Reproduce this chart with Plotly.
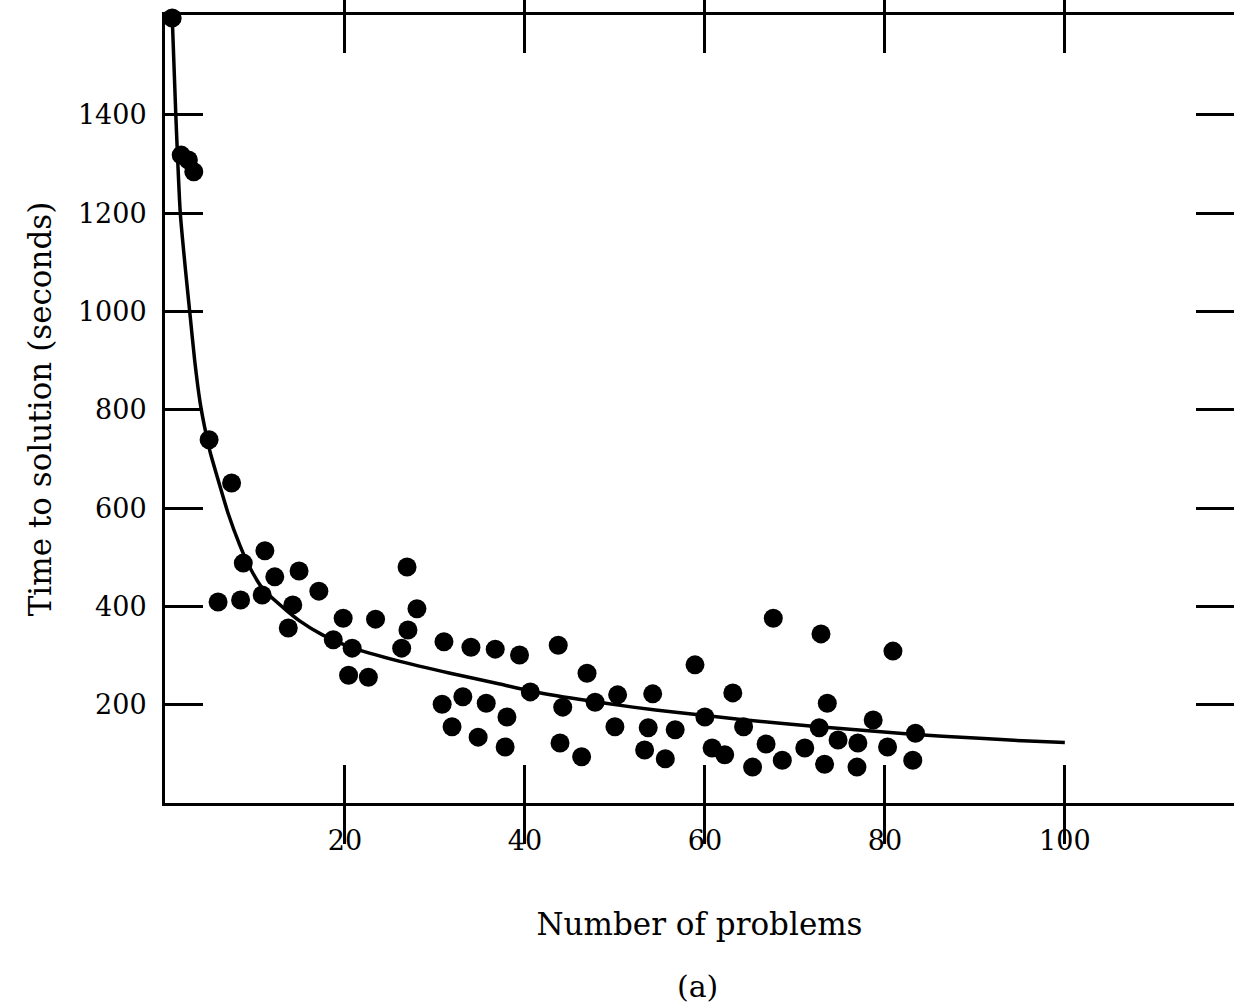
import plotly.graph_objects as go

# Observed data points (number of problems, time to solution in seconds)
problems = [0.8, 1.8, 2.6, 3.2, 4.9, 7.4, 5.9, 8.4, 8.7, 11.1, 12.2, 14.9, 10.8, 14.2, 13.7,
            17.1, 18.7, 19.8, 20.8, 20.4, 22.6, 23.4, 26.9, 28.0, 27.0, 26.3, 31.0, 34.0, 36.7,
            39.4, 43.7, 30.8, 31.9, 33.1, 35.7, 34.8, 38.0, 37.8, 40.6, 44.2, 43.9, 46.3, 46.9,
            47.8, 50.3, 50.0, 54.2, 53.7, 53.3, 55.6, 56.7, 58.9, 60.0, 60.8, 62.2, 63.1, 64.3,
            65.3, 66.8, 67.6, 68.6, 71.1, 72.7, 72.9, 73.6, 73.3, 74.8, 77.0, 76.9, 78.7, 80.3,
            80.9, 83.4, 83.1]
times = [1597, 1318, 1308, 1284, 739, 651, 409, 413, 488, 513, 460, 472, 423, 403, 356,
         431, 332, 376, 315, 260, 256, 374, 480, 395, 352, 315, 328, 317, 313,
         301, 321, 201, 155, 216, 203, 134, 175, 114, 226, 195, 122, 94, 264,
         205, 220, 155, 222, 153, 108, 90, 149, 281, 175, 112, 98, 224, 155,
         73, 120, 376, 87, 112, 153, 344, 203, 79, 128, 122, 73, 169, 114,
         309, 142, 87]

# Fitted curve
curve_x = [0.8, 1.2, 1.7, 2.3, 2.8, 3.3, 3.9, 4.4, 5.0, 6.1, 7.0, 8.3, 9.4, 10.9, 13.1,
           15.0, 17.5, 20.6, 26.1, 31.7, 37.2, 40.6, 46.0, 52.0, 57.0, 64.0, 72.0, 83.0,
           90.0, 96.0, 100.0]
curve_y = [1600, 1400, 1200, 1080, 990, 900, 815, 765, 715, 645, 590, 525, 480, 435, 398,
           370, 342, 317, 288, 264, 242, 228, 211, 195, 184, 170, 156, 140,
           132, 126, 123]

x_ticks = [20, 40, 60, 80, 100]
y_ticks = [200, 400, 600, 800, 1000, 1200, 1400]

FONT = "DejaVu Serif"

fig = go.Figure()
fig.add_trace(go.Scatter(x=curve_x, y=curve_y, mode="lines",
                         line=dict(color="black", width=3.5, shape="spline", smoothing=0.6),
                         cliponaxis=False, showlegend=False))
fig.add_trace(go.Scatter(x=problems, y=times, mode="markers",
                         marker=dict(color="black", size=19), cliponaxis=False,
                         showlegend=False))

fig.update_layout(
    width=1234, height=1003,
    margin=dict(l=165, r=0, t=15, b=200),
    paper_bgcolor="white", plot_bgcolor="white",
    font=dict(family=FONT, color="black", size=26),
    xaxis=dict(range=[0, 118.8], tickvals=x_ticks, ticks="inside", ticklen=38,
               tickwidth=3, tickcolor="black", showline=True, linewidth=3,
               linecolor="black", mirror="allticks", showgrid=False, zeroline=False,
               tickfont=dict(family=FONT, size=27), ticklabelstandoff=12,
               title=dict(text="Number of problems", font=dict(family=FONT, size=31),
                          standoff=58)),
    yaxis=dict(range=[0, 1603], tickvals=y_ticks, ticks="inside", ticklen=38,
               tickwidth=3, tickcolor="black", showline=True, linewidth=3,
               linecolor="black", mirror=False, showgrid=False, zeroline=False,
               tickfont=dict(family=FONT, size=27), ticklabelstandoff=10,
               title=dict(text="Time to solution (seconds)", font=dict(family=FONT, size=31),
                          standoff=18)),
    yaxis2=dict(range=[0, 1603], overlaying="y", side="right", matches="y",
                tickvals=y_ticks, ticks="inside", ticklen=38, tickwidth=3,
                tickcolor="black", showline=False, showgrid=False, zeroline=False,
                showticklabels=False),
    annotations=[dict(text="(a)", xref="paper", yref="paper", x=0.498, y=-0.233,
                      showarrow=False, font=dict(family=FONT, size=30),
                      xanchor="center", yanchor="middle")],
)
# invisible helper trace so the right-hand tick axis is drawn
fig.add_trace(go.Scatter(x=[curve_x[0]], y=[curve_y[0]], yaxis="y2", mode="markers",
                         marker=dict(opacity=0), hoverinfo="skip", showlegend=False))

fig.write_html("out.html")
